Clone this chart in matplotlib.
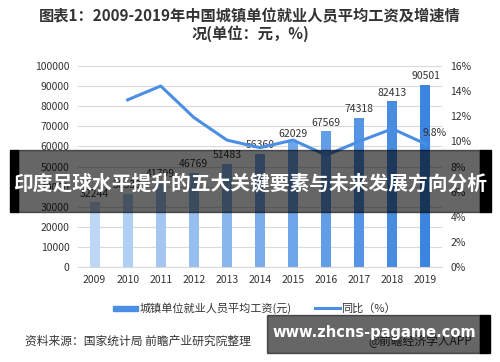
import matplotlib.pyplot as plt
import matplotlib.colors as mcolors
import numpy as np
from matplotlib.patches import Rectangle

plt.rcParams['font.family'] = ['Noto Sans CJK SC', 'DejaVu Sans']

years = ['2009', '2010', '2011', '2012', '2013', '2014', '2015', '2016', '2017', '2018', '2019']
wages = [32244, 36539, 41799, 46769, 51483, 56360, 62029, 67569, 74318, 82413, 90501]
growth_years = ['2010', '2011', '2012', '2013', '2014', '2015', '2016', '2017', '2018', '2019']
growth = [13.3, 14.4, 11.9, 10.1, 9.5, 10.1, 8.9, 10.0, 11.0, 9.8]

fig = plt.figure(figsize=(5, 3.62), dpi=100)
ax = fig.add_axes([0.156, 0.262, 0.728, 0.556])

# bars get lighter-to-darker blue
cmap = mcolors.LinearSegmentedColormap.from_list('b', ['#bdd7f6', '#3b84e0'])
x = np.arange(len(years))
bar_colors = [cmap(t) for t in np.linspace(0, 1, len(years))]
bars = ax.bar(x, wages, width=0.3, color=bar_colors, zorder=2)
for xi, v in zip(x, wages):
    ax.text(xi, v + 1800, str(v), ha='center', va='bottom', fontsize=7.5, color='#333333')

ax.set_ylim(0, 100000)
ax.set_yticks(np.arange(0, 100001, 10000))
ax.set_xlim(-0.5, len(years) - 0.5)
ax.set_xticks(x)
ax.set_xticklabels(years)
ax.grid(axis='y', color='#d9d9d9', linewidth=0.8, zorder=0)
ax.tick_params(length=0, labelsize=7.5, colors='#333333', pad=6)
for s in ['top', 'left', 'right']:
    ax.spines[s].set_visible(False)
ax.spines['bottom'].set_color('#d9d9d9')

ax2 = ax.twinx()
gx = [years.index(y) for y in growth_years]
ax2.plot(gx, growth, color='#4a8fe3', linewidth=2.2, zorder=3)
ax2.text(gx[-1] - 0.1, growth[-1] + 0.5, '9.8%', fontsize=7.5, color='#333333', va='bottom', ha='left')
ax2.set_ylim(0, 16)
ax2.set_yticks(np.arange(0, 17, 2))
ax2.set_yticklabels([f'{t}%' for t in range(0, 17, 2)])
ax2.tick_params(length=0, labelsize=7.5, colors='#333333', pad=6)
for s in ax2.spines.values():
    s.set_visible(False)

fig.text(0.5, 0.955, '图表1：2009-2019年中国城镇单位就业人员平均工资及增速情', ha='center', va='center',
         fontsize=11, fontweight='bold', color='#333333')
fig.text(0.5, 0.907, '况(单位：元，%)', ha='center', va='center',
         fontsize=11, fontweight='bold', color='#333333')

# legend
fig.patches.append(Rectangle((113 / 500, 1 - 311 / 362), 25 / 500, 5 / 362, transform=fig.transFigure,
                             color='#4a8fe3'))
fig.text(140 / 500, 1 - 308 / 362, '城镇单位就业人员平均工资(元)', fontsize=8, va='center', color='#333333')
fig.lines.append(plt.Line2D([315 / 500, 340 / 500], [1 - 308 / 362] * 2, transform=fig.transFigure,
                            color='#4a8fe3', linewidth=2.2))
fig.text(341 / 500, 1 - 308 / 362, '同比（%）', fontsize=8, va='center', color='#333333')

fig.text(25 / 500, 1 - 341 / 362, '资料来源：国家统计局 前瞻产业研究院整理', fontsize=8.5, va='center', color='#333333')
fig.text(368 / 500, 1 - 341 / 362, '@前瞻经济学人APP', fontsize=8.5, va='center', color='#333333')

# overlay banners
fig.patches.append(Rectangle((18 / 500, 1 - 212 / 362), 462 / 500, 62 / 362, transform=fig.transFigure,
                             color='black', alpha=0.6, zorder=10))
fig.patches.append(Rectangle((10 / 500, 1 - 212 / 362), 8 / 500, 62 / 362, transform=fig.transFigure,
                             color='black', zorder=10))
fig.patches.append(Rectangle((480 / 500, 1 - 212 / 362), 11 / 500, 62 / 362, transform=fig.transFigure,
                             color='black', zorder=10))
fig.text(0.5, 1 - 184 / 362, '印度足球水平提升的五大关键要素与未来发展方向分析', ha='center', va='center',
         fontsize=14.2, fontweight='bold', color='white', zorder=11)

fig.patches.append(Rectangle((267 / 500, 1 - 353 / 362), 213 / 500, 38 / 362, transform=fig.transFigure,
                             color='black', alpha=0.6, zorder=10))
fig.patches.append(Rectangle((480 / 500, 1 - 353 / 362), 10 / 500, 38 / 362, transform=fig.transFigure,
                             color='black', zorder=10))
fig.text(374 / 500, 1 - 332 / 362, 'www.zhcns-pagame.com', ha='center', va='center',
         fontsize=10.5, fontweight='bold', color='white', family='DejaVu Sans', zorder=11)

fig.savefig('out.png', dpi=100)
